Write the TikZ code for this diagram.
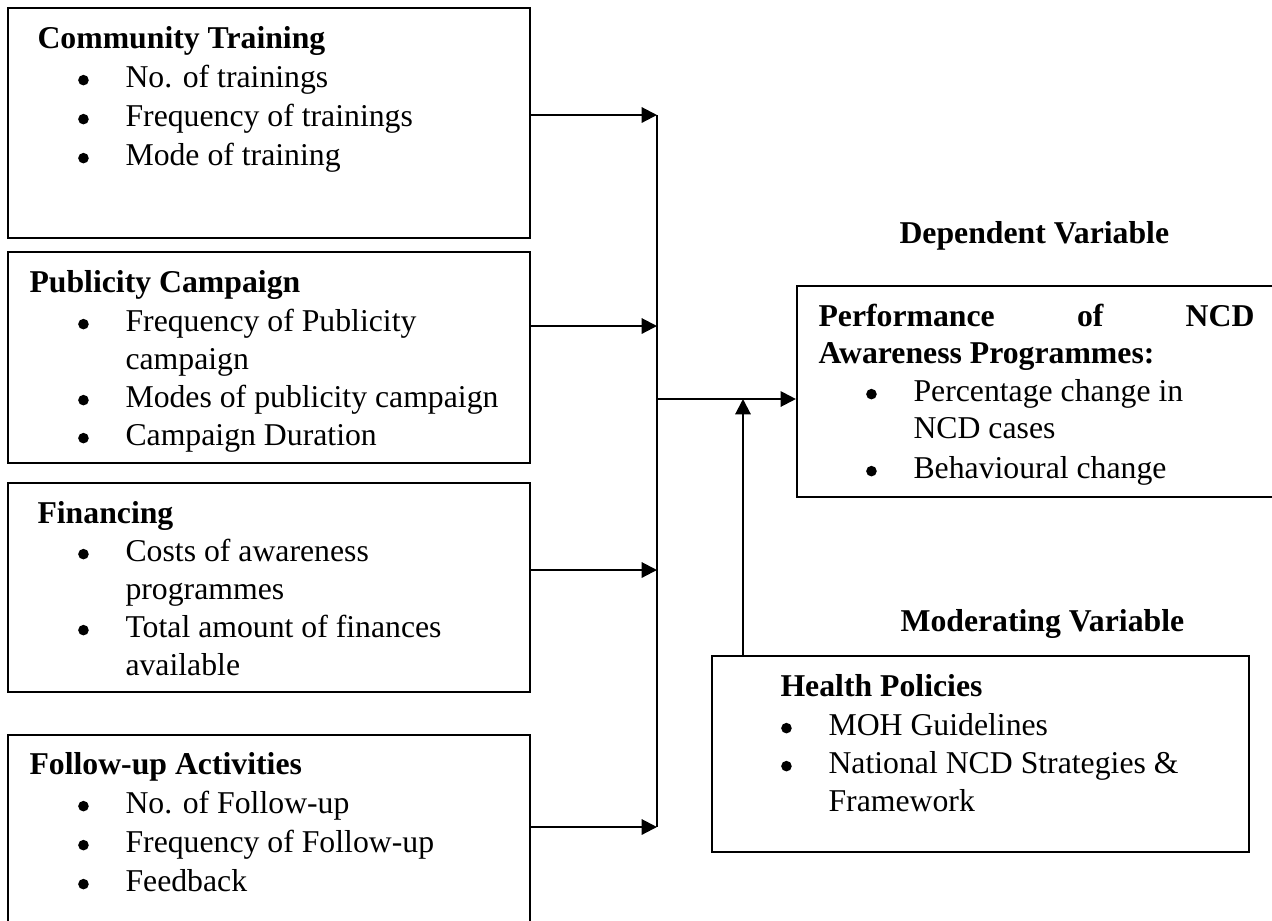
\documentclass[tikz,border=0pt]{standalone}
\usepackage{fontspec}
\setmainfont{Liberation Serif}
\usetikzlibrary{arrows.meta,fit}
\newcommand{\bulletdot}{\raisebox{0.6pt}{\tikz[baseline=0pt]\fill (0pt,2pt) circle (2pt);}}
\newcommand{\bitem}[1]{\llap{\bulletdot\hspace{13.9pt}}#1}
\begin{document}
\begin{tikzpicture}[x=0.378pt, y=-0.378pt,
  box/.style={draw, line width=0.8pt, inner sep=0pt},
  txt/.style={anchor=base west, inner sep=0pt, font=\fontsize{12}{14}\selectfont},
  hd/.style={anchor=base west, inner sep=0pt, font=\fontsize{12}{14}\selectfont\bfseries},
  link/.style={line width=0.8pt},
  arr/.style={link, -{Triangle[length=5.8pt,width=5.8pt]}}]
\useasboundingbox (0,0) rectangle (1272,920);

% boxes
\node[box, fit={(8,8) (530,238)}] (ct) {};
\node[box, fit={(8,252) (530,463)}] (pc) {};
\node[box, fit={(8,483) (530,692)}] (fin) {};
\node[box, fit={(8,735) (530,950)}] (fu) {};
\node[box, fit={(797,286) (1300,497)}] (dv) {};
\node[box, fit={(712,656) (1249,852)}] (hp) {};

% Community Training
\node[hd] (ct-t) at (37,48) {Community Training};
\node[txt] (ct-1) at (125,87) {\bitem{No. of trainings}};
\node[txt] (ct-2) at (125,126) {\bitem{Frequency of trainings}};
\node[txt] (ct-3) at (125,165) {\bitem{Mode of training}};

% Publicity Campaign
\node[hd] (pc-t) at (29,292) {Publicity Campaign};
\node[txt] (pc-1) at (125,331) {\bitem{Frequency of Publicity}};
\node[txt] (pc-1b) at (125,369) {campaign};
\node[txt] (pc-2) at (125,407) {\bitem{Modes of publicity campaign}};
\node[txt] (pc-3) at (125,445) {\bitem{Campaign Duration}};

% Financing
\node[hd] (fin-t) at (37,523) {Financing};
\node[txt] (fin-1) at (125,561) {\bitem{Costs of awareness}};
\node[txt] (fin-1b) at (125,599) {programmes};
\node[txt] (fin-2) at (125,637) {\bitem{Total amount of finances}};
\node[txt] (fin-2b) at (125,675) {available};

% Follow-up Activities
\node[hd] (fu-t) at (29,774) {Follow-up Activities};
\node[txt] (fu-1) at (125,813) {\bitem{No. of Follow-up}};
\node[txt] (fu-2) at (125,852) {\bitem{Frequency of Follow-up}};
\node[txt] (fu-3) at (125,891) {\bitem{Feedback}};

% Dependent variable
\node[hd] (dvl) at (899,243) {Dependent Variable};
\node[hd] (dv-t1) at (818,326) {\makebox[164.8pt]{Performance\hfill of\hfill NCD}};
\node[hd] (dv-t2) at (818,363) {Awareness Programmes:};
\node[txt] (dv-1) at (913,401) {\bitem{Percentage change in}};
\node[txt] (dv-1b) at (913,438) {NCD cases};
\node[txt] (dv-2) at (913,478) {\bitem{Behavioural change}};

% Moderating variable
\node[hd] (mvl) at (900,631) {Moderating Variable};
\node[hd] (hp-t) at (780,696) {Health Policies};
\node[txt] (hp-1) at (828,735) {\bitem{MOH Guidelines}};
\node[txt] (hp-2) at (828,773) {\bitem{National NCD Strategies \&}};
\node[txt] (hp-2b) at (828,811) {Framework};

% connectors
\coordinate (j1) at (657,115);
\coordinate (j2) at (657,326);
\coordinate (j3) at (657,570);
\coordinate (j4) at (657,827);
\coordinate (jm) at (657,399);
\coordinate (up) at (743,399);
\draw[link] (j1) -- (j4);
\draw[arr] (ct.east |- j1) -- (j1);
\draw[arr] (pc.east |- j2) -- (j2);
\draw[arr] (fin.east |- j3) -- (j3);
\draw[arr] (fu.east |- j4) -- (j4);
\draw[arr] (jm) -- (dv.west |- jm);
\draw[arr] (hp.north -| up) -- (up);
\end{tikzpicture}
\end{document}
